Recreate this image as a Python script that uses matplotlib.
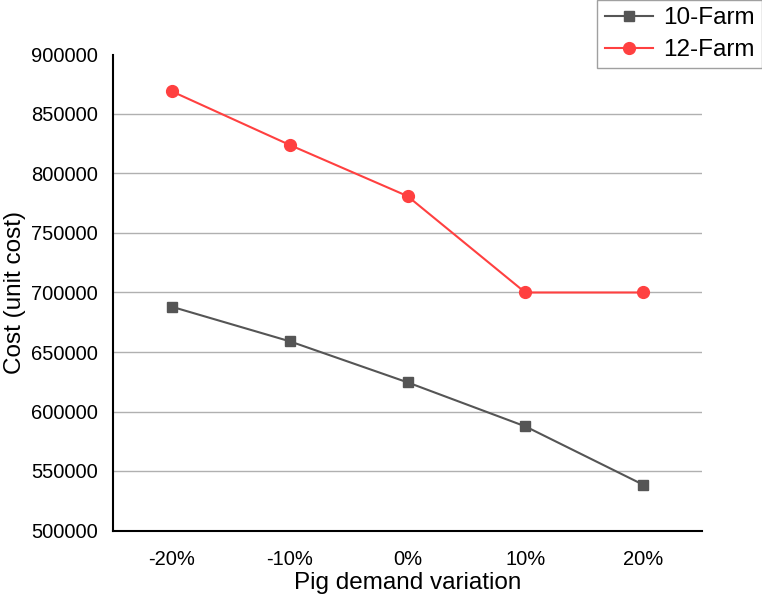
import matplotlib
matplotlib.use("Agg")
import matplotlib.pyplot as plt

plt.rcParams['font.family'] = ['Liberation Sans', 'DejaVu Sans']

categories = ["-20%", "-10%", "0%", "10%", "20%"]
farm10 = [688000, 659000, 624500, 587500, 538500]
farm12 = [869000, 824000, 781000, 700000, 700000]
yticks = [500000, 550000, 600000, 650000, 700000, 750000, 800000, 850000, 900000]

fig = plt.figure(figsize=(7.62, 6.07), dpi=100)
ax = fig.add_axes([113/762, (607-530.5)/607, (702-113)/762, (530.5-54.5)/607])

x = [i + 0.5 for i in range(len(categories))]
ax.plot(x, farm10, color='#555555', lw=1.5, marker='s', ms=7, label='10-Farm')
ax.plot(x, farm12, color='#FF4040', lw=1.5, marker='o', ms=8.5, label='12-Farm')

ax.set_xlim(0, 5)
ax.set_ylim(500000, 900000)
ax.set_xticks(x)
ax.set_xticklabels(categories)
ax.set_yticks(yticks)
ax.set_yticklabels([str(v) for v in yticks])
ax.tick_params(axis='both', length=0, labelsize=14.5)
ax.tick_params(axis='y', pad=11)
ax.tick_params(axis='x', pad=14)
for v in yticks[1:-1]:
    ax.axhline(v, color='#B0B0B0', lw=1, zorder=0)
for s in ['top', 'right']:
    ax.spines[s].set_visible(False)
ax.spines['left'].set_linewidth(1.5)
ax.spines['bottom'].set_linewidth(1.5)

ax.set_xlabel('Pig demand variation', fontsize=17.5, va='center')
ax.set_ylabel('Cost (unit cost)', fontsize=17.5, va='center')
ax.xaxis.set_label_coords(0.5, (530.5 - 583) / 476)
ax.yaxis.set_label_coords((15 - 113) / 589, 0.5)

leg = fig.legend(loc='upper right', bbox_to_anchor=(1.0, 1.0), fontsize=17.5,
                 frameon=True, fancybox=False, edgecolor='#888888',
                 handlelength=2.0, borderpad=0.3, labelspacing=0.4, handletextpad=0.4,
                 borderaxespad=0.0)
leg.get_frame().set_linewidth(1.0)

fig.savefig('out.png', dpi=100)
